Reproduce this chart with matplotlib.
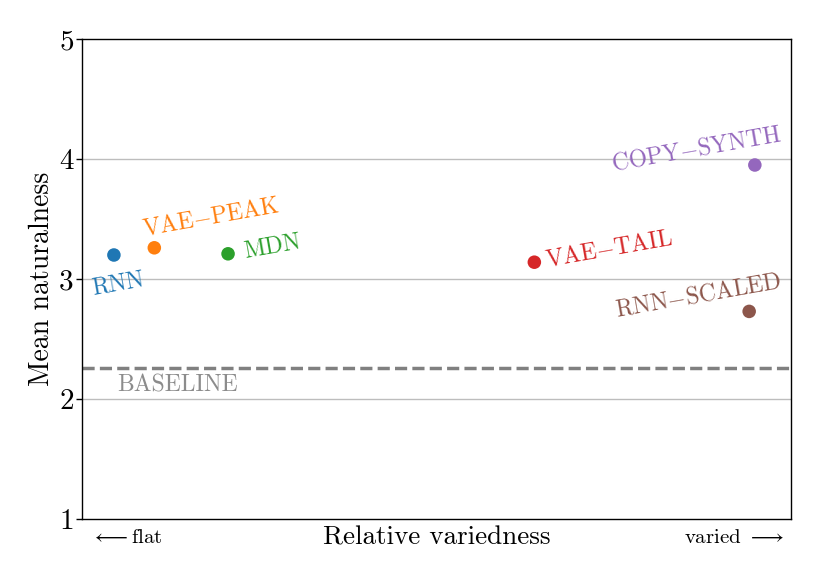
import matplotlib
matplotlib.use("Agg")
import matplotlib.pyplot as plt

models = ["RNN", "VAE-PEAK", "MDN", "VAE-TAIL", "COPY-SYNTH", "RNN-SCALED"]
variedness = [0.045, 0.102, 0.206, 0.638, 0.949, 0.941]
naturalness = [3.20, 3.26, 3.21, 3.14, 3.95, 2.73]
colors = ["#1f77b4", "#ff7f0e", "#2ca02c", "#d62728", "#9467bd", "#8c564b"]
label_pos = [(0.051, 2.96), (0.182, 3.51), (0.269, 3.27), (0.743, 3.25), (0.867, 4.075), (0.869, 2.86)]
baseline = 2.26
yticks = [1, 2, 3, 4, 5]

plt.rcParams["font.family"] = ["cmr10", "DejaVu Serif"]
plt.rcParams["mathtext.fontset"] = "cm"
plt.rcParams["axes.formatter.use_mathtext"] = True

fig = plt.figure(figsize=(8.3, 5.81), dpi=100)
ax = fig.add_axes([82/830, 1-519/581, (791-82)/830, (519-39)/581])

for v in [2, 3, 4]:
    ax.axhline(v, color="#bdbdbd", lw=1.0, zorder=1)
ax.axhline(baseline, color="#808080", lw=2.5, ls=(0, (3.5, 1.5)), zorder=2)
ax.text(0.135, 2.117, "BASELINE", color="#8c8c8c", fontsize=17, ha="center", va="center")

ax.scatter(variedness, naturalness, c=colors, s=95, zorder=3, edgecolors="none")
for m, (lx, ly), c in zip(models, label_pos, colors):
    lbl = m.replace("-", "$-$")
    ax.text(lx, ly, lbl, color=c, fontsize=17, rotation=10, ha="center", va="center",
            rotation_mode="anchor")

ax.set_xlim(0, 1)
ax.set_ylim(1, 5)
ax.set_yticks(yticks)
ax.set_yticklabels([str(t) for t in yticks], fontsize=21)
ax.set_xticks([])
ax.tick_params(axis="y", length=4, width=1, pad=2)
ax.set_ylabel("Mean naturalness", fontsize=20, labelpad=3)
ax.set_xlabel("Relative variedness", fontsize=19.5, labelpad=5)
for s in ax.spines.values():
    s.set_linewidth(1.0)

ax.text(0.013, -0.04, r"$\longleftarrow$flat", transform=ax.transAxes, fontsize=15,
        ha="left", va="center")
ax.text(0.99, -0.04, r"varied $\longrightarrow$", transform=ax.transAxes, fontsize=15,
        ha="right", va="center")

fig.savefig("out.png", dpi=100)
